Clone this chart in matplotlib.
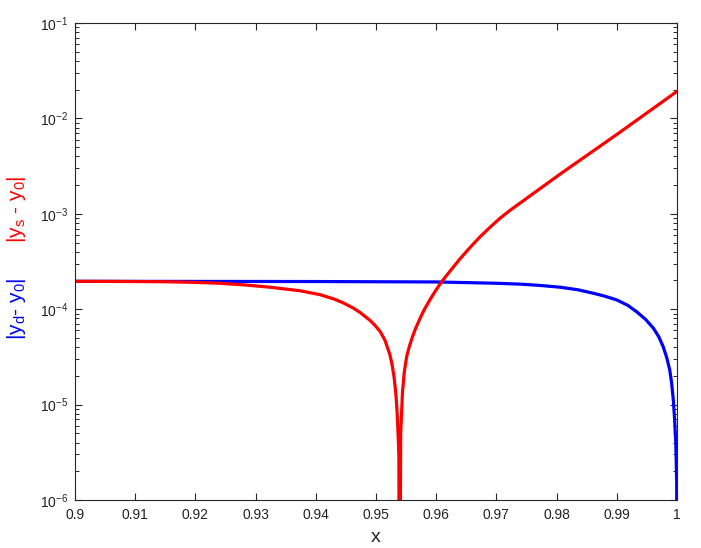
import numpy as np
import matplotlib
matplotlib.use('Agg')
import matplotlib.pyplot as plt
from matplotlib.ticker import LogLocator, NullFormatter

plt.rcParams['font.family'] = ['Liberation Sans', 'DejaVu Sans']
plt.rcParams['mathtext.fontset'] = 'custom'
plt.rcParams['mathtext.rm'] = 'Liberation Sans'
plt.rcParams['mathtext.it'] = 'Liberation Sans'
plt.rcParams['mathtext.sf'] = 'Liberation Sans'

# |y_d - y_0|
x_d = [0.900, 0.920, 0.940, 0.950, 0.960, 0.965, 0.970, 0.974, 0.977, 0.9806,
       0.9835, 0.9861, 0.988, 0.990, 0.9918, 0.9933, 0.9948, 0.9961, 0.997, 0.9977,
       0.9983, 0.9988, 0.9991, 0.9994, 0.9996, 0.9998, 0.99995, 1.0]
err_d = [1.96e-4, 1.955e-4, 1.95e-4, 1.94e-4, 1.93e-4, 1.9e-4, 1.87e-4, 1.83e-4, 1.78e-4, 1.70e-4,
         1.6e-4, 1.47e-4, 1.37e-4, 1.25e-4, 1.1e-4, 9.4e-5, 7.8e-5, 6.3e-5, 5.1e-5, 4.05e-5,
         3.1e-5, 2.3e-5, 1.7e-5, 1.1e-5, 7e-6, 4e-6, 1.5e-6, 1e-8]

# |y_s - y_0|
x_s = [0.900, 0.910, 0.915, 0.920, 0.924, 0.928, 0.9324, 0.9345, 0.9374, 0.9407,
       0.9430, 0.9445, 0.9462, 0.9473, 0.9490, 0.9498, 0.9507, 0.9515, 0.9523, 0.9527,
       0.9530, 0.9533, 0.9535, 0.9537, 0.9538, 0.9539, 0.9541, 0.9544, 0.9547, 0.9551,
       0.9555, 0.9560, 0.9565, 0.9573, 0.9580, 0.9590, 0.9600, 0.9609, 0.9625, 0.9640,
       0.9656, 0.9673, 0.9690, 0.9706, 0.9722, 0.9739, 0.9760, 0.9806, 0.9903, 1.0]
err_s = [1.96e-4, 1.95e-4, 1.94e-4, 1.91e-4, 1.87e-4, 1.80e-4, 1.70e-4, 1.64e-4, 1.56e-4, 1.42e-4,
         1.28e-4, 1.17e-4, 1.03e-4, 9.29e-5, 7.64e-5, 6.81e-5, 5.82e-5, 4.71e-5, 3.35e-5, 2.56e-5,
         1.95e-5, 1.29e-5, 8.5e-6, 4.46e-6, 2.81e-6, 1e-8, 5e-6, 1.35e-5, 2.2e-5, 3.2e-5,
         3.99e-5, 5.02e-5, 6.11e-5, 7.98e-5, 9.84e-5, 1.27e-4, 1.60e-4, 1.94e-4, 2.6e-4, 3.4e-4,
         4.42e-4, 5.75e-4, 7.28e-4, 8.98e-4, 1.08e-3, 1.29e-3, 1.61e-3, 2.61e-3, 7.0e-3, 1.92e-2]

xticks = [0.9, 0.91, 0.92, 0.93, 0.94, 0.95, 0.96, 0.97, 0.98, 0.99, 1.0]
xticklabels = ['0.9', '0.91', '0.92', '0.93', '0.94', '0.95', '0.96', '0.97', '0.98', '0.99', '1']

axis_col = '#262626'

fig = plt.figure(figsize=(7.01, 5.48), dpi=100)
ax = fig.add_axes([75 / 701, 48 / 548, 602 / 701, 477 / 548])

ax.semilogy(x_d, err_d, color='#0000ff', lw=2.3, solid_joinstyle='round')
ax.semilogy(x_s, err_s, color='#ff0000', lw=2.3, solid_joinstyle='round')

ax.set_xlim(0.9, 1.0)
ax.set_ylim(1e-6, 1e-1)
ax.set_xticks(xticks)
ax.set_xticklabels(xticklabels)
ax.yaxis.set_major_locator(LogLocator(base=10, numticks=10))
ax.yaxis.set_minor_locator(LogLocator(base=10, subs=np.arange(2, 10), numticks=20))
ax.yaxis.set_minor_formatter(NullFormatter())

ax.tick_params(which='both', direction='in', top=True, right=True,
               colors=axis_col, labelcolor='#222222', labelsize=10)
ax.tick_params(which='major', length=5, width=0.8)
ax.tick_params(which='minor', length=2.8, width=0.7)
ax.tick_params(axis='x', pad=6)
ax.tick_params(axis='y', pad=5)
for sp in ax.spines.values():
    sp.set_color(axis_col)
    sp.set_linewidth(0.8)

ax.set_xlabel('x', fontsize=14, color='#222222', labelpad=5)

# two-coloured y label
fig.text(17 / 701, 1 - 209 / 548, r'|y$_\mathrm{s}$ - y$_\mathrm{0}$|', color='#ff0000',
         fontsize=15, rotation=90, ha='center', va='center')
fig.text(17 / 701, 1 - 309 / 548, r'|y$_\mathrm{d}$- y$_\mathrm{0}$|', color='#0000ff',
         fontsize=15, rotation=90, ha='center', va='center')

fig.savefig('out.png', dpi=100)
